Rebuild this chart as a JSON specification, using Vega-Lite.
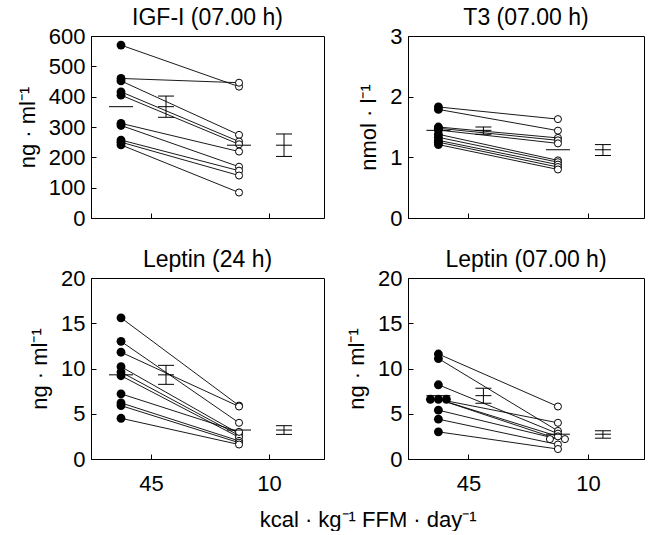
{
  "$schema": "https://vega.github.io/schema/vega-lite/v6.json",
  "padding": {"left": 15, "top": 6, "right": 0, "bottom": 0},
  "bounds": "flush",
  "columns": 2,
  "spacing": {"row": 60, "column": 84},
  "title": {"text": "kcal · kg⁻¹ FFM · day⁻¹", "orient": "bottom", "anchor": "middle", "frame": "bounds", "fontSize": 22, "fontWeight": "normal", "offset": 15, "dx": 38},
  "datasets": {
    "igf": [
      {"s":1,"kcal":45,"v":570},{"s":1,"kcal":10,"v":433},
      {"s":2,"kcal":45,"v":460},{"s":2,"kcal":10,"v":446},
      {"s":3,"kcal":45,"v":452},{"s":3,"kcal":10,"v":274},
      {"s":4,"kcal":45,"v":416},{"s":4,"kcal":10,"v":252},
      {"s":5,"kcal":45,"v":405},{"s":5,"kcal":10,"v":243},
      {"s":6,"kcal":45,"v":312},{"s":6,"kcal":10,"v":219},
      {"s":7,"kcal":45,"v":305},{"s":7,"kcal":10,"v":169},
      {"s":8,"kcal":45,"v":257},{"s":8,"kcal":10,"v":156},
      {"s":9,"kcal":45,"v":250},{"s":9,"kcal":10,"v":140},
      {"s":10,"kcal":45,"v":241},{"s":10,"kcal":10,"v":84}
    ],
    "igfm": [
      {"kcal":45,"mean":367,"lo":332,"hi":402},
      {"kcal":10,"mean":240,"lo":203,"hi":277}
    ],
    "t3": [
      {"s":1,"kcal":45,"v":1.83},{"s":1,"kcal":10,"v":1.63},
      {"s":2,"kcal":45,"v":1.79},{"s":2,"kcal":10,"v":1.44},
      {"s":3,"kcal":45,"v":1.50},{"s":3,"kcal":10,"v":1.32},
      {"s":4,"kcal":45,"v":1.48},{"s":4,"kcal":10,"v":1.28},
      {"s":5,"kcal":45,"v":1.45},{"s":5,"kcal":10,"v":1.23},
      {"s":6,"kcal":45,"v":1.38},{"s":6,"kcal":10,"v":0.95},
      {"s":7,"kcal":45,"v":1.33},{"s":7,"kcal":10,"v":0.92},
      {"s":8,"kcal":45,"v":1.28},{"s":8,"kcal":10,"v":0.88},
      {"s":9,"kcal":45,"v":1.25},{"s":9,"kcal":10,"v":0.84},
      {"s":10,"kcal":45,"v":1.21},{"s":10,"kcal":10,"v":0.80}
    ],
    "t3m": [
      {"kcal":45,"mean":1.445,"lo":1.38,"hi":1.50},
      {"kcal":10,"mean":1.125,"lo":1.03,"hi":1.21}
    ],
    "lep24": [
      {"s":1,"kcal":45,"v":15.6},{"s":1,"kcal":10,"v":5.9},
      {"s":2,"kcal":45,"v":13.0},{"s":2,"kcal":10,"v":4.0},
      {"s":3,"kcal":45,"v":11.8},{"s":3,"kcal":10,"v":5.8},
      {"s":4,"kcal":45,"v":10.2},{"s":4,"kcal":10,"v":2.8},
      {"s":5,"kcal":45,"v":9.6},{"s":5,"kcal":10,"v":2.6},
      {"s":6,"kcal":45,"v":9.2},{"s":6,"kcal":10,"v":2.4},
      {"s":7,"kcal":45,"v":7.2},{"s":7,"kcal":10,"v":3.0},
      {"s":8,"kcal":45,"v":6.2},{"s":8,"kcal":10,"v":2.0},
      {"s":9,"kcal":45,"v":5.9},{"s":9,"kcal":10,"v":1.8},
      {"s":10,"kcal":45,"v":4.5},{"s":10,"kcal":10,"v":1.6}
    ],
    "lep24m": [
      {"kcal":45,"mean":9.3,"lo":8.25,"hi":10.35},
      {"kcal":10,"mean":3.2,"lo":2.72,"hi":3.68}
    ],
    "lep07": [
      {"s":1,"kcal":45,"v":11.6},{"s":1,"kcal":10,"v":5.8},
      {"s":2,"kcal":45,"v":11.1},{"s":2,"kcal":10,"v":3.1},
      {"s":3,"kcal":45,"v":8.2},{"s":3,"kcal":10,"v":2.8},
      {"s":4,"kcal":45,"v":6.6,"t":-1},{"s":4,"kcal":10,"v":4.0},
      {"s":5,"kcal":45,"v":6.6},{"s":5,"kcal":10,"v":2.5},
      {"s":6,"kcal":45,"v":6.6,"t":1},{"s":6,"kcal":10,"v":2.2,"t":-1},
      {"s":7,"kcal":45,"v":5.4},{"s":7,"kcal":10,"v":2.2,"t":1},
      {"s":8,"kcal":45,"v":4.4},{"s":8,"kcal":10,"v":1.6},
      {"s":9,"kcal":45,"v":3.0},{"s":9,"kcal":10,"v":1.1}
    ],
    "lep07m": [
      {"kcal":45,"mean":7.0,"lo":6.16,"hi":7.82},
      {"kcal":10,"mean":2.74,"lo":2.3,"hi":3.12}
    ]
  },
  "concat": [
    {
      "width": 233, "height": 182,
      "title": "IGF-I (07.00 h)",
      "encoding": {
        "x": {"field": "kcal", "type": "quantitative", "scale": {"domain": [-15.2, 53.9], "reverse": true, "nice": false, "zero": false}, "axis": {"values": [45, 10], "tickOffset": 30, "labels": false, "title": null, "tickSize": -5}}
      },
      "layer": [
        {"data": {"name": "igf"}, "mark": {"type": "line", "color": "black", "strokeWidth": 0.9},
         "encoding": {"y": {"field": "v", "type": "quantitative", "scale": {"domain": [0, 600], "nice": false}, "axis": {"values": [0, 100, 200, 300, 400, 500, 600], "format": "d", "labelOverlap": false, "title": "ng · ml⁻¹", "tickSize": -5, "labelPadding": 11, "titlePadding": 9}}, "detail": {"field": "s"}}},
        {"data": {"name": "igf"}, "transform": [{"filter": "datum.kcal == 45"}], "mark": {"type": "circle", "color": "black", "size": 78, "opacity": 1},
         "encoding": {"y": {"field": "v", "type": "quantitative", "scale": {"domain": [0, 600], "nice": false}, "axis": {"values": [0, 100, 200, 300, 400, 500, 600], "format": "d", "labelOverlap": false, "title": "ng · ml⁻¹", "tickSize": -5, "labelPadding": 11, "titlePadding": 9}}}},
        {"data": {"name": "igf"}, "transform": [{"filter": "datum.kcal == 10"}], "mark": {"type": "point", "shape": "circle", "fill": "white", "stroke": "black", "strokeWidth": 1, "size": 50, "opacity": 1},
         "encoding": {"y": {"field": "v", "type": "quantitative", "scale": {"domain": [0, 600], "nice": false}, "axis": {"values": [0, 100, 200, 300, 400, 500, 600], "format": "d", "labelOverlap": false, "title": "ng · ml⁻¹", "tickSize": -5, "labelPadding": 11, "titlePadding": 9}}}},
        {"data": {"name": "igfm"}, "mark": {"type": "tick", "orient": "horizontal", "size": 24, "thickness": 1, "color": "black", "opacity": 1},
         "encoding": {"y": {"field": "mean", "type": "quantitative", "scale": {"domain": [0, 600], "nice": false}, "axis": {"values": [0, 100, 200, 300, 400, 500, 600], "format": "d", "labelOverlap": false, "title": "ng · ml⁻¹", "tickSize": -5, "labelPadding": 11, "titlePadding": 9}}}},
        {"data": {"name": "igfm"}, "mark": {"type": "rule", "xOffset": 45, "color": "black", "strokeWidth": 1},
         "encoding": {"y": {"field": "lo", "type": "quantitative", "scale": {"domain": [0, 600], "nice": false}, "axis": {"values": [0, 100, 200, 300, 400, 500, 600], "format": "d", "labelOverlap": false, "title": "ng · ml⁻¹", "tickSize": -5, "labelPadding": 11, "titlePadding": 9}}, "y2": {"field": "hi"}}},
        {"data": {"name": "igfm"}, "mark": {"type": "tick", "orient": "horizontal", "xOffset": 45, "size": 16, "thickness": 1, "color": "black", "opacity": 1},
         "encoding": {"y": {"field": "lo", "type": "quantitative", "scale": {"domain": [0, 600], "nice": false}, "axis": {"values": [0, 100, 200, 300, 400, 500, 600], "format": "d", "labelOverlap": false, "title": "ng · ml⁻¹", "tickSize": -5, "labelPadding": 11, "titlePadding": 9}}}},
        {"data": {"name": "igfm"}, "mark": {"type": "tick", "orient": "horizontal", "xOffset": 45, "size": 16, "thickness": 1, "color": "black", "opacity": 1},
         "encoding": {"y": {"field": "hi", "type": "quantitative", "scale": {"domain": [0, 600], "nice": false}, "axis": {"values": [0, 100, 200, 300, 400, 500, 600], "format": "d", "labelOverlap": false, "title": "ng · ml⁻¹", "tickSize": -5, "labelPadding": 11, "titlePadding": 9}}}},
        {"data": {"name": "igfm"}, "mark": {"type": "tick", "orient": "horizontal", "xOffset": 45, "size": 16, "thickness": 1, "color": "black", "opacity": 1},
         "encoding": {"y": {"field": "mean", "type": "quantitative", "scale": {"domain": [0, 600], "nice": false}, "axis": {"values": [0, 100, 200, 300, 400, 500, 600], "format": "d", "labelOverlap": false, "title": "ng · ml⁻¹", "tickSize": -5, "labelPadding": 11, "titlePadding": 9}}}}
      ]
    },
    {
      "width": 236, "height": 182,
      "title": "T3 (07.00 h)",
      "encoding": {
        "x": {"field": "kcal", "type": "quantitative", "scale": {"domain": [-15.2, 53.9], "reverse": true, "nice": false, "zero": false}, "axis": {"values": [45, 10], "tickOffset": 30, "labels": false, "title": null, "tickSize": -5}}
      },
      "layer": [
        {"data": {"name": "t3"}, "mark": {"type": "line", "color": "black", "strokeWidth": 0.9},
         "encoding": {"y": {"field": "v", "type": "quantitative", "scale": {"domain": [0, 3], "nice": false}, "axis": {"values": [0, 1, 2, 3], "format": "d", "labelOverlap": false, "title": "nmol · l⁻¹", "tickSize": -5, "labelPadding": 11, "titlePadding": 9}}, "detail": {"field": "s"}}},
        {"data": {"name": "t3"}, "transform": [{"filter": "datum.kcal == 45"}], "mark": {"type": "circle", "color": "black", "size": 78, "opacity": 1},
         "encoding": {"y": {"field": "v", "type": "quantitative", "scale": {"domain": [0, 3], "nice": false}, "axis": {"values": [0, 1, 2, 3], "format": "d", "labelOverlap": false, "title": "nmol · l⁻¹", "tickSize": -5, "labelPadding": 11, "titlePadding": 9}}}},
        {"data": {"name": "t3"}, "transform": [{"filter": "datum.kcal == 10"}], "mark": {"type": "point", "shape": "circle", "fill": "white", "stroke": "black", "strokeWidth": 1, "size": 50, "opacity": 1},
         "encoding": {"y": {"field": "v", "type": "quantitative", "scale": {"domain": [0, 3], "nice": false}, "axis": {"values": [0, 1, 2, 3], "format": "d", "labelOverlap": false, "title": "nmol · l⁻¹", "tickSize": -5, "labelPadding": 11, "titlePadding": 9}}}},
        {"data": {"name": "t3m"}, "mark": {"type": "tick", "orient": "horizontal", "size": 24, "thickness": 1, "color": "black", "opacity": 1},
         "encoding": {"y": {"field": "mean", "type": "quantitative", "scale": {"domain": [0, 3], "nice": false}, "axis": {"values": [0, 1, 2, 3], "format": "d", "labelOverlap": false, "title": "nmol · l⁻¹", "tickSize": -5, "labelPadding": 11, "titlePadding": 9}}}},
        {"data": {"name": "t3m"}, "mark": {"type": "rule", "xOffset": 45, "color": "black", "strokeWidth": 1},
         "encoding": {"y": {"field": "lo", "type": "quantitative", "scale": {"domain": [0, 3], "nice": false}, "axis": {"values": [0, 1, 2, 3], "format": "d", "labelOverlap": false, "title": "nmol · l⁻¹", "tickSize": -5, "labelPadding": 11, "titlePadding": 9}}, "y2": {"field": "hi"}}},
        {"data": {"name": "t3m"}, "mark": {"type": "tick", "orient": "horizontal", "xOffset": 45, "size": 16, "thickness": 1, "color": "black", "opacity": 1},
         "encoding": {"y": {"field": "lo", "type": "quantitative", "scale": {"domain": [0, 3], "nice": false}, "axis": {"values": [0, 1, 2, 3], "format": "d", "labelOverlap": false, "title": "nmol · l⁻¹", "tickSize": -5, "labelPadding": 11, "titlePadding": 9}}}},
        {"data": {"name": "t3m"}, "mark": {"type": "tick", "orient": "horizontal", "xOffset": 45, "size": 16, "thickness": 1, "color": "black", "opacity": 1},
         "encoding": {"y": {"field": "hi", "type": "quantitative", "scale": {"domain": [0, 3], "nice": false}, "axis": {"values": [0, 1, 2, 3], "format": "d", "labelOverlap": false, "title": "nmol · l⁻¹", "tickSize": -5, "labelPadding": 11, "titlePadding": 9}}}},
        {"data": {"name": "t3m"}, "mark": {"type": "tick", "orient": "horizontal", "xOffset": 45, "size": 16, "thickness": 1, "color": "black", "opacity": 1},
         "encoding": {"y": {"field": "mean", "type": "quantitative", "scale": {"domain": [0, 3], "nice": false}, "axis": {"values": [0, 1, 2, 3], "format": "d", "labelOverlap": false, "title": "nmol · l⁻¹", "tickSize": -5, "labelPadding": 11, "titlePadding": 9}}}}
      ]
    },
    {
      "width": 233, "height": 181,
      "title": "Leptin (24 h)",
      "encoding": {
        "x": {"field": "kcal", "type": "quantitative", "scale": {"domain": [-15.2, 53.9], "reverse": true, "nice": false, "zero": false}, "axis": {"values": [45, 10], "tickOffset": 30, "title": null, "tickSize": -5, "labelPadding": 19}}
      },
      "layer": [
        {"data": {"name": "lep24"}, "mark": {"type": "line", "color": "black", "strokeWidth": 0.9},
         "encoding": {"y": {"field": "v", "type": "quantitative", "scale": {"domain": [0, 20], "nice": false}, "axis": {"values": [0, 5, 10, 15, 20], "format": "d", "labelOverlap": false, "title": "ng · ml⁻¹", "tickSize": -5, "labelPadding": 11, "titlePadding": 9}}, "detail": {"field": "s"}}},
        {"data": {"name": "lep24"}, "transform": [{"filter": "datum.kcal == 45"}], "mark": {"type": "circle", "color": "black", "size": 78, "opacity": 1},
         "encoding": {"y": {"field": "v", "type": "quantitative", "scale": {"domain": [0, 20], "nice": false}, "axis": {"values": [0, 5, 10, 15, 20], "format": "d", "labelOverlap": false, "title": "ng · ml⁻¹", "tickSize": -5, "labelPadding": 11, "titlePadding": 9}}}},
        {"data": {"name": "lep24"}, "transform": [{"filter": "datum.kcal == 10"}], "mark": {"type": "point", "shape": "circle", "fill": "white", "stroke": "black", "strokeWidth": 1, "size": 50, "opacity": 1},
         "encoding": {"y": {"field": "v", "type": "quantitative", "scale": {"domain": [0, 20], "nice": false}, "axis": {"values": [0, 5, 10, 15, 20], "format": "d", "labelOverlap": false, "title": "ng · ml⁻¹", "tickSize": -5, "labelPadding": 11, "titlePadding": 9}}}},
        {"data": {"name": "lep24m"}, "mark": {"type": "tick", "orient": "horizontal", "size": 24, "thickness": 1, "color": "black", "opacity": 1},
         "encoding": {"y": {"field": "mean", "type": "quantitative", "scale": {"domain": [0, 20], "nice": false}, "axis": {"values": [0, 5, 10, 15, 20], "format": "d", "labelOverlap": false, "title": "ng · ml⁻¹", "tickSize": -5, "labelPadding": 11, "titlePadding": 9}}}},
        {"data": {"name": "lep24m"}, "mark": {"type": "rule", "xOffset": 45, "color": "black", "strokeWidth": 1},
         "encoding": {"y": {"field": "lo", "type": "quantitative", "scale": {"domain": [0, 20], "nice": false}, "axis": {"values": [0, 5, 10, 15, 20], "format": "d", "labelOverlap": false, "title": "ng · ml⁻¹", "tickSize": -5, "labelPadding": 11, "titlePadding": 9}}, "y2": {"field": "hi"}}},
        {"data": {"name": "lep24m"}, "mark": {"type": "tick", "orient": "horizontal", "xOffset": 45, "size": 16, "thickness": 1, "color": "black", "opacity": 1},
         "encoding": {"y": {"field": "lo", "type": "quantitative", "scale": {"domain": [0, 20], "nice": false}, "axis": {"values": [0, 5, 10, 15, 20], "format": "d", "labelOverlap": false, "title": "ng · ml⁻¹", "tickSize": -5, "labelPadding": 11, "titlePadding": 9}}}},
        {"data": {"name": "lep24m"}, "mark": {"type": "tick", "orient": "horizontal", "xOffset": 45, "size": 16, "thickness": 1, "color": "black", "opacity": 1},
         "encoding": {"y": {"field": "hi", "type": "quantitative", "scale": {"domain": [0, 20], "nice": false}, "axis": {"values": [0, 5, 10, 15, 20], "format": "d", "labelOverlap": false, "title": "ng · ml⁻¹", "tickSize": -5, "labelPadding": 11, "titlePadding": 9}}}},
        {"data": {"name": "lep24m"}, "mark": {"type": "tick", "orient": "horizontal", "xOffset": 45, "size": 16, "thickness": 1, "color": "black", "opacity": 1},
         "encoding": {"y": {"field": "mean", "type": "quantitative", "scale": {"domain": [0, 20], "nice": false}, "axis": {"values": [0, 5, 10, 15, 20], "format": "d", "labelOverlap": false, "title": "ng · ml⁻¹", "tickSize": -5, "labelPadding": 11, "titlePadding": 9}}}}
      ]
    },
    {
      "width": 236, "height": 181,
      "title": "Leptin (07.00 h)",
      "encoding": {
        "x": {"field": "kcal", "type": "quantitative", "scale": {"domain": [-15.2, 53.9], "reverse": true, "nice": false, "zero": false}, "axis": {"values": [45, 10], "tickOffset": 30, "title": null, "tickSize": -5, "labelPadding": 19}}
      },
      "layer": [
        {"data": {"name": "lep07"}, "mark": {"type": "line", "color": "black", "strokeWidth": 0.9},
         "encoding": {"y": {"field": "v", "type": "quantitative", "scale": {"domain": [0, 20], "nice": false}, "axis": {"values": [0, 5, 10, 15, 20], "format": "d", "labelOverlap": false, "title": "ng · ml⁻¹", "tickSize": -5, "labelPadding": 11, "titlePadding": 9}}, "detail": {"field": "s"}}},
        {"data": {"name": "lep07"}, "transform": [{"filter": "datum.kcal == 45 && !datum.t"}], "mark": {"type": "circle", "color": "black", "size": 78, "opacity": 1},
         "encoding": {"y": {"field": "v", "type": "quantitative", "scale": {"domain": [0, 20], "nice": false}, "axis": {"values": [0, 5, 10, 15, 20], "format": "d", "labelOverlap": false, "title": "ng · ml⁻¹", "tickSize": -5, "labelPadding": 11, "titlePadding": 9}}}},
        {"data": {"name": "lep07"}, "transform": [{"filter": "datum.kcal == 45 && datum.t == -1"}], "mark": {"type": "circle", "color": "black", "size": 78, "opacity": 1, "xOffset": -8},
         "encoding": {"y": {"field": "v", "type": "quantitative", "scale": {"domain": [0, 20], "nice": false}, "axis": {"values": [0, 5, 10, 15, 20], "format": "d", "labelOverlap": false, "title": "ng · ml⁻¹", "tickSize": -5, "labelPadding": 11, "titlePadding": 9}}}},
        {"data": {"name": "lep07"}, "transform": [{"filter": "datum.kcal == 45 && datum.t == 1"}], "mark": {"type": "circle", "color": "black", "size": 78, "opacity": 1, "xOffset": 8},
         "encoding": {"y": {"field": "v", "type": "quantitative", "scale": {"domain": [0, 20], "nice": false}, "axis": {"values": [0, 5, 10, 15, 20], "format": "d", "labelOverlap": false, "title": "ng · ml⁻¹", "tickSize": -5, "labelPadding": 11, "titlePadding": 9}}}},
        {"data": {"name": "lep07"}, "transform": [{"filter": "datum.kcal == 10 && !datum.t"}], "mark": {"type": "point", "shape": "circle", "fill": "white", "stroke": "black", "strokeWidth": 1, "size": 50, "opacity": 1},
         "encoding": {"y": {"field": "v", "type": "quantitative", "scale": {"domain": [0, 20], "nice": false}, "axis": {"values": [0, 5, 10, 15, 20], "format": "d", "labelOverlap": false, "title": "ng · ml⁻¹", "tickSize": -5, "labelPadding": 11, "titlePadding": 9}}}},
        {"data": {"name": "lep07"}, "transform": [{"filter": "datum.kcal == 10 && datum.t == -1"}], "mark": {"type": "point", "shape": "circle", "fill": "white", "stroke": "black", "strokeWidth": 1, "size": 50, "opacity": 1, "xOffset": -8},
         "encoding": {"y": {"field": "v", "type": "quantitative", "scale": {"domain": [0, 20], "nice": false}, "axis": {"values": [0, 5, 10, 15, 20], "format": "d", "labelOverlap": false, "title": "ng · ml⁻¹", "tickSize": -5, "labelPadding": 11, "titlePadding": 9}}}},
        {"data": {"name": "lep07"}, "transform": [{"filter": "datum.kcal == 10 && datum.t == 1"}], "mark": {"type": "point", "shape": "circle", "fill": "white", "stroke": "black", "strokeWidth": 1, "size": 50, "opacity": 1, "xOffset": 7},
         "encoding": {"y": {"field": "v", "type": "quantitative", "scale": {"domain": [0, 20], "nice": false}, "axis": {"values": [0, 5, 10, 15, 20], "format": "d", "labelOverlap": false, "title": "ng · ml⁻¹", "tickSize": -5, "labelPadding": 11, "titlePadding": 9}}}},
        {"data": {"name": "lep07m"}, "mark": {"type": "tick", "orient": "horizontal", "size": 24, "thickness": 1, "color": "black", "opacity": 1},
         "encoding": {"y": {"field": "mean", "type": "quantitative", "scale": {"domain": [0, 20], "nice": false}, "axis": {"values": [0, 5, 10, 15, 20], "format": "d", "labelOverlap": false, "title": "ng · ml⁻¹", "tickSize": -5, "labelPadding": 11, "titlePadding": 9}}}},
        {"data": {"name": "lep07m"}, "mark": {"type": "rule", "xOffset": 45, "color": "black", "strokeWidth": 1},
         "encoding": {"y": {"field": "lo", "type": "quantitative", "scale": {"domain": [0, 20], "nice": false}, "axis": {"values": [0, 5, 10, 15, 20], "format": "d", "labelOverlap": false, "title": "ng · ml⁻¹", "tickSize": -5, "labelPadding": 11, "titlePadding": 9}}, "y2": {"field": "hi"}}},
        {"data": {"name": "lep07m"}, "mark": {"type": "tick", "orient": "horizontal", "xOffset": 45, "size": 16, "thickness": 1, "color": "black", "opacity": 1},
         "encoding": {"y": {"field": "lo", "type": "quantitative", "scale": {"domain": [0, 20], "nice": false}, "axis": {"values": [0, 5, 10, 15, 20], "format": "d", "labelOverlap": false, "title": "ng · ml⁻¹", "tickSize": -5, "labelPadding": 11, "titlePadding": 9}}}},
        {"data": {"name": "lep07m"}, "mark": {"type": "tick", "orient": "horizontal", "xOffset": 45, "size": 16, "thickness": 1, "color": "black", "opacity": 1},
         "encoding": {"y": {"field": "hi", "type": "quantitative", "scale": {"domain": [0, 20], "nice": false}, "axis": {"values": [0, 5, 10, 15, 20], "format": "d", "labelOverlap": false, "title": "ng · ml⁻¹", "tickSize": -5, "labelPadding": 11, "titlePadding": 9}}}},
        {"data": {"name": "lep07m"}, "mark": {"type": "tick", "orient": "horizontal", "xOffset": 45, "size": 16, "thickness": 1, "color": "black", "opacity": 1},
         "encoding": {"y": {"field": "mean", "type": "quantitative", "scale": {"domain": [0, 20], "nice": false}, "axis": {"values": [0, 5, 10, 15, 20], "format": "d", "labelOverlap": false, "title": "ng · ml⁻¹", "tickSize": -5, "labelPadding": 11, "titlePadding": 9}}}}
      ]
    }
  ],
  "config": {
    "font": "Liberation Sans",
    "view": {"stroke": "black", "strokeWidth": 1},
    "axis": {"domainColor": "black", "domainWidth": 1, "tickColor": "black", "tickWidth": 1, "labelColor": "black", "titleColor": "black", "labelFontSize": 22, "titleFontSize": 22, "titleFontWeight": "normal", "grid": false, "labelFlush": false, "labelOverlap": false},
    "title": {"fontSize": 23, "fontWeight": "normal", "color": "black", "offset": -5}
  }
}
